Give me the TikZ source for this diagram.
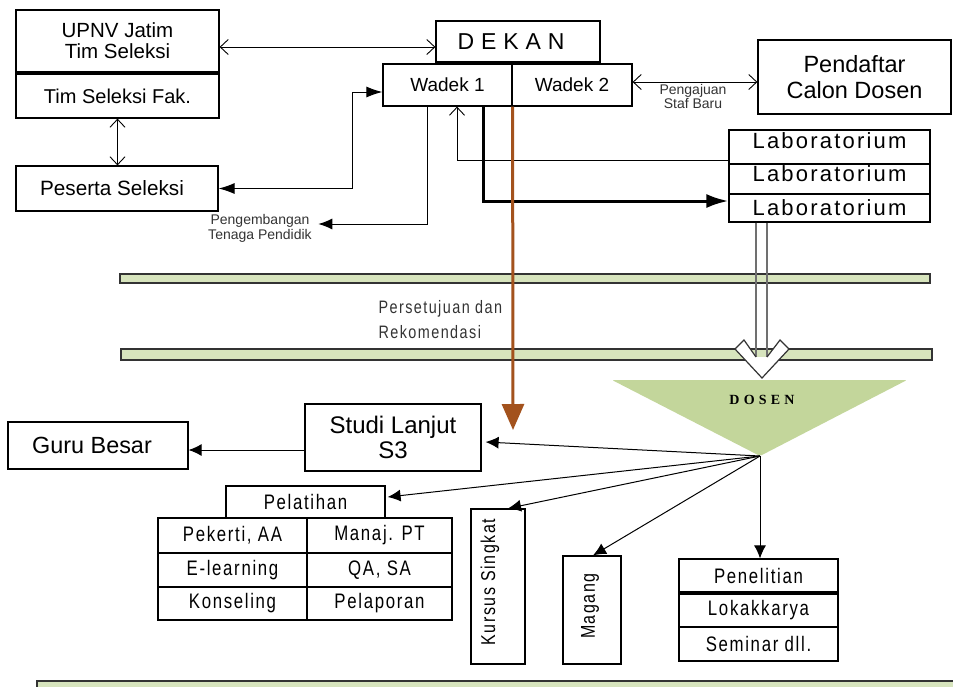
\documentclass[tikz,border=0pt]{standalone}
\usepackage{fontspec}
\setmainfont{Liberation Sans}
\newfontfamily\narf[FakeStretch=0.8,LetterSpace=8]{Liberation Sans}
\newfontfamily\labf[LetterSpace=10]{Liberation Sans}
\newfontfamily\dekf[LetterSpace=30]{Liberation Sans}
\newfontfamily\dosf[LetterSpace=30]{Liberation Serif}
\usetikzlibrary{arrows.meta,calc}
\newcommand\fsz[2]{\fontsize{#1}{#2}\selectfont}
\definecolor{barfill}{HTML}{D7E4BD}
\definecolor{trifill}{HTML}{C3D69B}
\definecolor{brownc}{HTML}{A3521D}
\definecolor{edgec}{HTML}{333333}
\definecolor{shaftc}{HTML}{707070}
\tikzset{
  box/.style={draw=black, line width=1.2pt, inner sep=0pt, align=center},
  oboth/.style={line width=0.9pt, {Straight Barb[length=8pt,width=15pt]}-{Straight Barb[length=8pt,width=15pt]}},
  oend/.style={line width=0.9pt, -{Straight Barb[length=8pt,width=15pt]}},
  fboth/.style={line width=1pt, {Latex[length=16pt,width=11pt]}-{Latex[length=16pt,width=11pt]}},
  fend/.style={line width=1pt, -{Latex[length=14pt,width=11pt]}},
  darr/.style={line width=1pt, -{Latex[length=13pt,width=12pt]}},
  bar/.style={fill=barfill, draw=edgec, line width=1.2pt},
  cell/.style={box, font=\narf\fsz{21}{22}},
}
\begin{document}
\begin{tikzpicture}[x=1pt,y=-1pt]
\useasboundingbox (0,0) rectangle (953,686);

% bars
\draw[bar] (120,274) rectangle (930,283);
\draw[bar] (121,349) rectangle (932,360);
\draw[bar] (37,681) rectangle (960,700);

% top left
\node[box, minimum width=203, minimum height=62, font=\fsz{20.5}{21}] (upnv) at (117.5,41) {UPNV Jatim\\Tim Seleksi};
\node[box, minimum width=203, minimum height=44, font=\fsz{20}{21}] (timfak) at (117.5,96) {Tim Seleksi Fak.};
\node[box, minimum width=202, minimum height=45, font=\fsz{20.7}{22}] (peserta) at (117,188.5) {\kern-10pt Peserta Seleksi};

% dekan / wadek
\node[box, minimum width=164, minimum height=41, font=\dekf\fsz{23}{24}] (dekan) at (518,41.5) {DEKAN\kern14pt};
\node[box, minimum width=129, minimum height=42, font=\fsz{19}{20}] (wadek1) at (447.5,85) {Wadek 1};
\node[box, minimum width=120, minimum height=42, font=\fsz{19}{20}] (wadek2) at (572,85) {Wadek 2};

\node[box, minimum width=193, minimum height=74, font=\fsz{23.5}{26}] (pendaftar) at (854.5,77) {Pendaftar\\Calon Dosen};

% labs
\node[box, minimum width=201, minimum height=34, font=\labf\fsz{22}{22}] (lab1) at (829.5,147) {\raisebox{13pt}{Laboratorium}};
\node[box, minimum width=201, minimum height=30, font=\labf\fsz{22}{22}] (lab2) at (829.5,179) {\raisebox{11pt}{Laboratorium}};
\node[box, minimum width=201, minimum height=28, font=\labf\fsz{22}{22}] (lab3) at (829.5,208) {Laboratorium};

% small labels
\node[align=center, font=\fsz{14}{15}, text=edgec] (peng) at (260,228.5) {Pengembangan\\Tenaga Pendidik};
\node[align=center, font=\fsz{14}{14}, text=edgec] (pengaj) at (693,96) {Pengajuan\\Staf Baru};
\node[anchor=west, align=left, text=edgec, font=\narf\fsz{18}{25}] (pers) at (375,320) {Persetujuan dan\\Rekomendasi};

% connectors top
\draw[oboth] ([yshift=-6pt]upnv.east) -- ([yshift=-6pt]upnv.east -| dekan.west);
\draw[oboth] (timfak.south) -- (timfak.south |- peserta.north);
\draw[fboth] (peserta.east) -| ([xshift=-30pt,yshift=-7pt]wadek1.west) -- ([yshift=-7pt]wadek1.west);
\draw[fend] ([xshift=-20.5pt]wadek1.south) |- ([xshift=3pt,yshift=4.5pt]peng.east);
\draw[oboth] ([yshift=3pt]wadek2.east) -- ([yshift=3pt]wadek2.east -| pendaftar.west);
\draw[oend] ([yshift=-13pt]lab1.west) -| ([xshift=9.5pt]wadek1.south);
\draw[line width=3pt, -{Latex[length=22pt,width=14pt]}] ([xshift=35.5pt]wadek1.south) |- ([yshift=7pt]lab3.west);

% brown arrow
\coordinate (brownend) at (513,430);
\draw[brownc, line width=3pt, -{Triangle[length=26pt,width=22pt]}] (wadek1.south east) -- (brownend);

% hollow arrow from lab3 to dosen
\draw[shaftc, line width=1.3pt] ([xshift=-73.5pt]lab3.south) -- ++(0,135);
\draw[shaftc, line width=1.3pt] ([xshift=-62.5pt]lab3.south) -- ++(0,135);
\draw[edgec, line width=1.2pt, fill=white] (756,357) -- (744,340) -- (735,349) -- (762,378) -- (789,349) -- (780,340) -- (767,357);

% DOSEN triangle
\fill[trifill, rounded corners=2pt] (612,380) -- (907,380) -- (760,456) -- cycle;
\coordinate (dosentip) at (760,456);
\node[font=\dosf\bfseries\fsz{14}{16}] (dosen) at (762,400) {DOSEN};

% bottom boxes
\node[box, minimum width=176, minimum height=67, font=\fsz{24}{25}] (studi) at (393,437.5) {Studi Lanjut\\S3};
\node[box, minimum width=180, minimum height=47, font=\fsz{23.4}{24}] (guru) at (98,445.5) {\kern-12pt Guru Besar};
\node[box, minimum width=159, minimum height=32, font=\narf\fsz{21}{22}] (pelat) at (305.5,502) {Pelatihan};

\node[cell, minimum width=149, minimum height=35] (c11) at (232.5,535.5) {Pekerti, AA};
\node[cell, minimum width=145, minimum height=35] (c12) at (379.5,535.5) {Manaj. PT};
\node[cell, minimum width=149, minimum height=34] (c21) at (232.5,570) {E-learning};
\node[cell, minimum width=145, minimum height=34] (c22) at (379.5,570) {QA, SA};
\node[cell, minimum width=149, minimum height=33] (c31) at (232.5,603.5) {Konseling};
\node[cell, minimum width=145, minimum height=33] (c32) at (379.5,603.5) {Pelaporan};

\node[box, minimum width=54, minimum height=155] (kursus) at (498,586.5) {};
\node[rotate=90, font=\narf\fsz{20}{20}] (kursustxt) at (490,582) {Kursus Singkat};
\node[box, minimum width=58, minimum height=108] (magang) at (592,610) {};
\node[rotate=90, font=\narf\fsz{20}{20}] (magangtxt) at (590,606) {Magang};

\node[cell, minimum width=159, minimum height=33] (pen) at (758.5,575.5) {Penelitian};
\node[cell, minimum width=159, minimum height=33] (lok) at (758.5,610.5) {Lokakkarya};
\node[cell, minimum width=159, minimum height=34] (sem) at (758.5,644) {Seminar dll.};

% dosen arrows
\draw[darr] (dosentip) -- ([xshift=4pt,yshift=-4.5pt]studi.east);
\draw[darr] (dosentip) -- ([xshift=2pt,yshift=5pt]pelat.east);
\draw[darr] (dosentip) -- ([xshift=10pt]kursus.north);
\draw[darr] (dosentip) -- ([xshift=1pt]magang.north);
\draw[darr] (dosentip) -- (dosentip |- pen.north);
\draw[darr] ([yshift=-12.5pt]studi.west) -- ([yshift=-12.5pt]studi.west -| guru.east);
\end{tikzpicture}
\end{document}
